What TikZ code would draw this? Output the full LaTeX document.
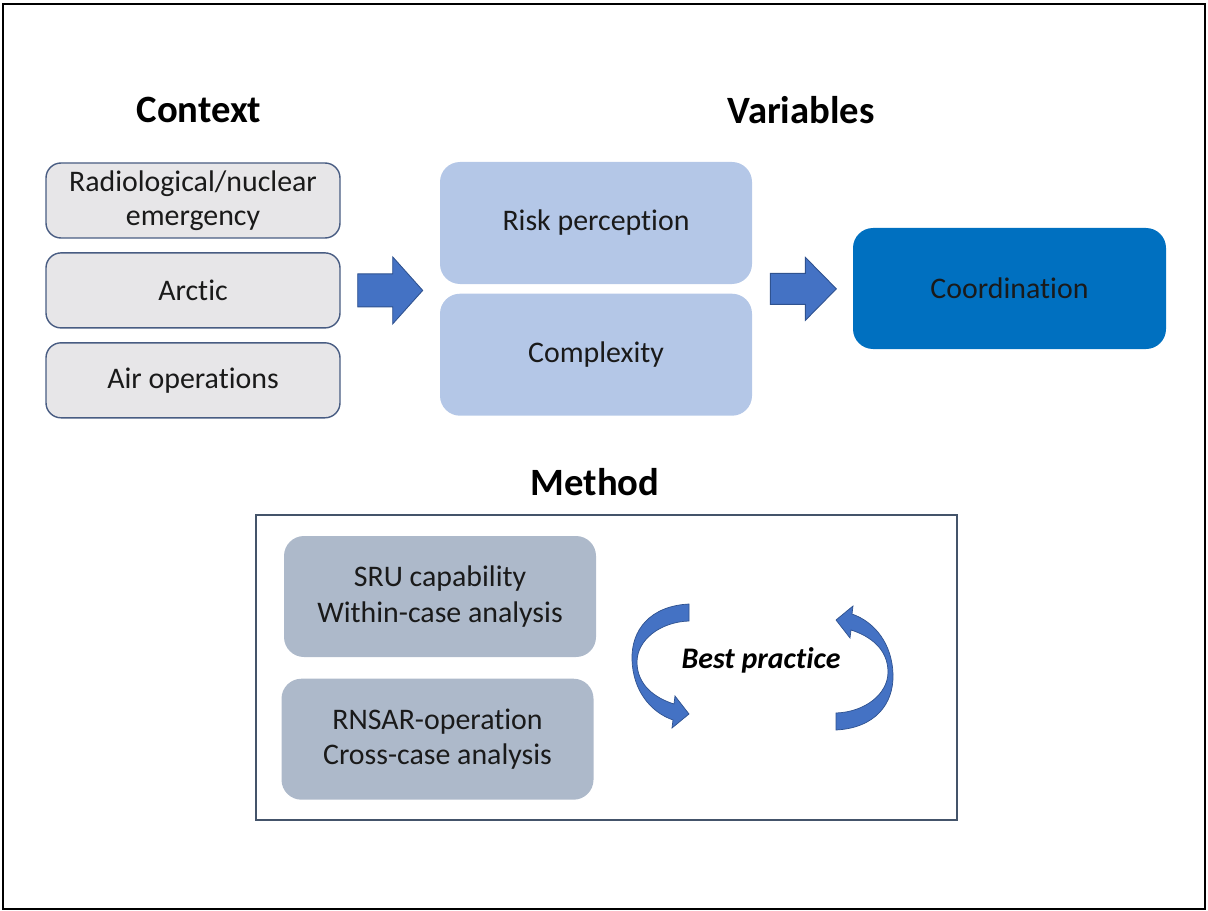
\documentclass[tikz,border=0pt]{standalone}
\usepackage{fontspec}
\setmainfont{Carlito}[Ligatures=NoCommon]
\usetikzlibrary{positioning,calc}
\definecolor{ctxgrey}{HTML}{E7E6E8}
\definecolor{ctxline}{HTML}{485C82}
\definecolor{frameline}{HTML}{44546A}
\definecolor{varblue}{HTML}{B4C7E7}
\definecolor{coordblue}{HTML}{0070C0}
\definecolor{methgrey}{HTML}{ADB9CA}
\definecolor{arrblue}{HTML}{4472C4}
\definecolor{arrline}{HTML}{2F528F}
\definecolor{txt}{HTML}{1A1A1A}

% one tapered loop arrow, drawn round the centre of the scope
\newcommand{\looparrow}{%
  (-1.47,1.26) .. controls (-2.25,1.22) and (-2.63,0.74) .. (-2.61,0.14)
  .. controls (-2.59,-0.46) and (-2.25,-0.9) .. (-1.79,-1.06)
  -- (-1.81,-1.22) -- (-1.47,-0.94) -- (-1.75,-0.58) -- (-1.77,-0.74)
  .. controls (-2.15,-0.62) and (-2.51,-0.36) .. (-2.51,0.1)
  .. controls (-2.51,0.54) and (-2.05,0.9) .. (-1.47,0.92) -- cycle}

\begin{document}
\begin{tikzpicture}[
    node distance=0.27cm,
    heading/.style={font=\fontsize{22}{26}\selectfont\bfseries,text=black},
    ctx/.style={draw=ctxline,line width=0.8pt,fill=ctxgrey,rounded corners=0.3cm,minimum width=5.88cm,minimum height=1.5cm,align=center,font=\fontsize{17}{19.5}\selectfont,text=txt},
    var/.style={fill=varblue,rounded corners=0.4cm,minimum width=6.24cm,minimum height=2.44cm,align=center,font=\fontsize{17}{20}\selectfont,text=txt},
    meth/.style={var,fill=methgrey},
    methframe/.style={draw=frameline,line width=0.7pt,minimum width=14.02cm,minimum height=6.1cm},
    barrow/.style={fill=arrblue,draw=arrline,line width=0.5pt}
]
\useasboundingbox (0,0) rectangle (24.16,-18.22);
\draw[line width=0.8pt] (0.06,-0.08) rectangle (24.1,-18.18);

\node[heading] (context) at (3.98,-2.2) {Context};
\node[heading] (variables) at (16.02,-2.2) {Variables};
\node[heading] (method) at (11.9,-9.64) {Method};

% context
\node[ctx] (radnuc) at (3.86,-4.01) {Radiological/nuclear\\emergency};
\node[ctx,below=of radnuc] (arctic) {Arctic};
\node[ctx,below=of arctic] (airops) {Air operations};

% variables
\node[var] (risk) at (11.92,-4.46) {Risk perception};
\node[var,below=0.18cm of risk] (cplx) {Complexity};
\node[var,fill=coordblue,minimum width=6.26cm,minimum height=2.42cm] (coordination) at (20.19,-5.77) {Coordination};

\coordinate (a1) at ($(arctic.east)+(0.34,0)$);
\coordinate (a2) at ($(risk.south east)!0.5!(cplx.north east)+(0.36,0)$);
\draw[barrow] (a1) ++(0,0.33) -- ++(0.7,0) -- ++(0,0.34) -- ++(0.6,-0.67) -- ++(-0.6,-0.67) -- ++(0,0.34) -- ++(-0.7,0) -- cycle;
\draw[barrow] (a2) ++(0,0.31) -- ++(0.7,0) -- ++(0,0.32) -- ++(0.62,-0.63) -- ++(-0.62,-0.63) -- ++(0,0.32) -- ++(-0.7,0) -- cycle;

% method
\node[methframe] (frame) at (12.13,-13.35) {};
\node[meth,minimum height=2.42cm] (sru) at (8.8,-11.93) {SRU capability\\Within-case analysis};
\node[meth,minimum height=2.42cm,below=0.42cm of sru,xshift=-0.05cm] (rnsar) {RNSAR-operation\\Cross-case analysis};
\node[font=\fontsize{17}{20}\selectfont\bfseries\itshape] (best) at (15.22,-13.2) {Best practice};

\coordinate (loopc) at ($(best)+(0.03,-0.14)$);
\begin{scope}[shift={(loopc)}]
  \fill[arrblue,draw=arrline,line width=0.4pt] \looparrow;
\end{scope}
\begin{scope}[shift={(loopc)},rotate=180]
  \fill[arrblue,draw=arrline,line width=0.4pt] \looparrow;
\end{scope}
\end{tikzpicture}
\end{document}
